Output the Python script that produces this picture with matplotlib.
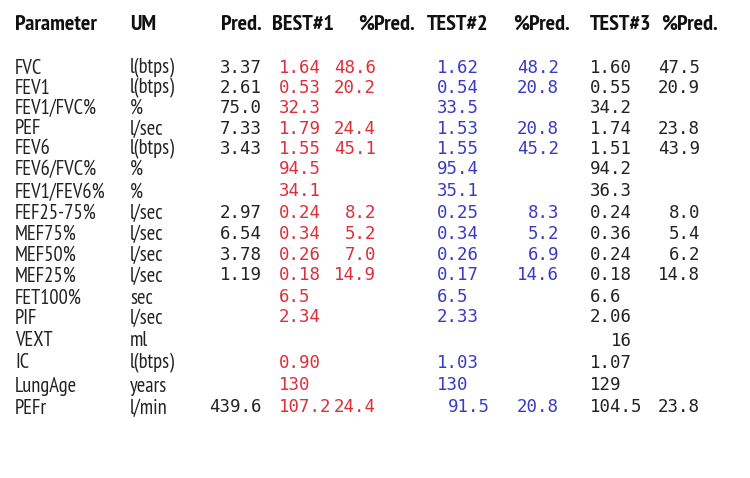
import matplotlib
matplotlib.use("Agg")
import matplotlib.pyplot as plt

# ---- data ----
params = ["FVC", "FEV1", "FEV1/FVC%", "PEF", "FEV6", "FEV6/FVC%", "FEV1/FEV6%",
          "FEF25-75%", "MEF75%", "MEF50%", "MEF25%", "FET100%", "PIF", "VEXT",
          "IC", "LungAge", "PEFr"]
units = ["l(btps)", "l(btps)", "%", "l/sec", "l(btps)", "%", "%", "l/sec", "l/sec",
         "l/sec", "l/sec", "sec", "l/sec", "ml", "l(btps)", "years", "l/min"]
pred = ["3.37", "2.61", "75.0", "7.33", "3.43", "", "", "2.97", "6.54", "3.78",
        "1.19", "", "", "", "", "", "439.6"]
best1 = ["1.64", "0.53", "32.3", "1.79", "1.55", "94.5", "34.1", "0.24", "0.34",
         "0.26", "0.18", "6.5", "2.34", "", "0.90", "130", "107.2"]
best1_pct = ["48.6", "20.2", "", "24.4", "45.1", "", "", "8.2", "5.2", "7.0",
             "14.9", "", "", "", "", "", "24.4"]
test2 = ["1.62", "0.54", "33.5", "1.53", "1.55", "95.4", "35.1", "0.25", "0.34",
         "0.26", "0.17", "6.5", "2.33", "", "1.03", "130", "91.5"]
test2_pct = ["48.2", "20.8", "", "20.8", "45.2", "", "", "8.3", "5.2", "6.9",
             "14.6", "", "", "", "", "", "20.8"]
test3 = ["1.60", "0.55", "34.2", "1.74", "1.51", "94.2", "36.3", "0.24", "0.36",
         "0.24", "0.18", "6.6", "2.06", "16", "1.07", "129", "104.5"]
test3_pct = ["47.5", "20.9", "", "23.8", "43.9", "", "", "8.0", "5.4", "6.2",
             "14.8", "", "", "", "", "", "23.8"]
headers = ["Parameter", "UM", "Pred.", "BEST#1", "%Pred.", "TEST#2", "%Pred.",
           "TEST#3", "%Pred."]

# ---- style ----
RED = "#dc2f3a"
BLUE = "#3a3ac4"
BLACK = "#222222"
LABEL_FONT = ["PT Sans Narrow", "DejaVu Sans"]
MONO_FONT = ["DejaVu Sans Mono"]

fig = plt.figure(figsize=(7.5, 4.78), dpi=100)
ax = fig.add_axes([0, 0, 1, 1])
ax.set_xlim(0, 750)
ax.set_ylim(478, 0)
ax.axis("off")

row_y = [66, 86, 106, 127, 147, 167, 190, 211, 232, 253, 274, 296, 316, 339, 361, 384, 406]
header_y = 22

# header: (x, ha)
hpos = [(15, "left"), (130, "left"), (262, "right"), (272, "left"), (415, "right"),
        (427, "left"), (570, "right"), (590, "left"), (718, "right")]
for h, (x, ha) in zip(headers, hpos):
    ax.text(x, header_y + 7.5, h, ha=ha, va="baseline", fontsize=16,
            fontweight="bold", family=LABEL_FONT, color="#111111")

cw = 10.45  # width of one mono character in px
indent = {(16, "test2"): 1, (13, "test3"): 2}

for i, y in enumerate(row_y):
    ax.text(15, y + 7.5, params[i], ha="left", va="baseline", fontsize=14.8,
            family=LABEL_FONT, color=BLACK)
    ax.text(130, y + 7.5, units[i], ha="left", va="baseline", fontsize=14.8,
            family=LABEL_FONT, color=BLACK)
    cols = [(pred[i], 262, "right", BLACK, None),
            (best1[i], 279, "left", RED, "best1"),
            (best1_pct[i], 376, "right", RED, None),
            (test2[i], 437, "left", BLUE, "test2"),
            (test2_pct[i], 559, "right", BLUE, None),
            (test3[i], 590, "left", BLACK, "test3"),
            (test3_pct[i], 700, "right", BLACK, None)]
    for s, x, ha, c, key in cols:
        if not s:
            continue
        x = x + indent.get((i, key), 0) * cw
        ax.text(x, y + 6.5, s, ha=ha, va="baseline", fontsize=12.5,
                family=MONO_FONT, color=c)

fig.savefig("out.png", dpi=100, facecolor="white")
